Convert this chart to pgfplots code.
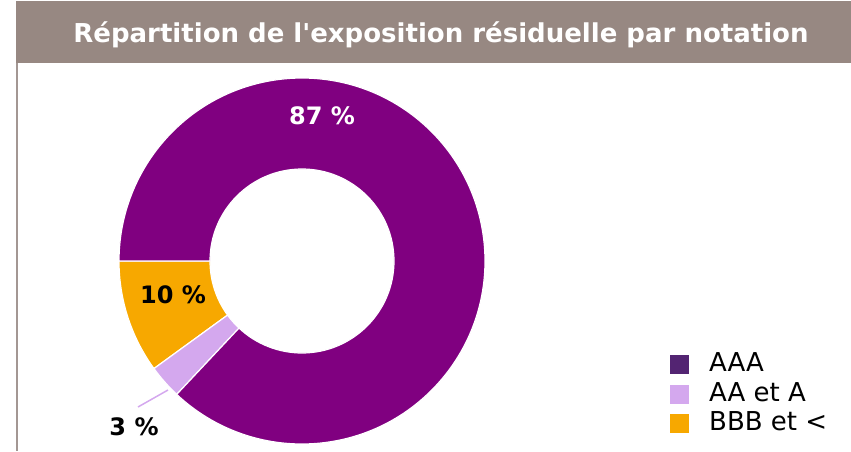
\documentclass[border=0pt]{standalone}
\usepackage{pgfplots}
\pgfplotsset{compat=1.18}
\usepackage{pgfplotstable}
\usepackage{fontspec}
\setmainfont{DejaVu Sans}
\newfontfamily\plainfont{DejaVu Sans} % no tex ligatures: keeps the straight apostrophe

\definecolor{titlebg}{HTML}{978882}
\definecolor{framecol}{HTML}{A39793}
\definecolor{aaa}{HTML}{800080}
\definecolor{aaaleg}{HTML}{532472}
\definecolor{aa}{HTML}{D4A8EE}
\definecolor{bbb}{HTML}{F7A800}

% share of residual exposure by rating, in %
\pgfplotstableread{
cat share
AAA 87
AA 3
BBB 10
}\ratings

\pgfplotstablegetelem{0}{share}\of\ratings \let\vAAA\pgfplotsretval
\pgfplotstablegetelem{1}{share}\of\ratings \let\vAA\pgfplotsretval
\pgfplotstablegetelem{2}{share}\of\ratings \let\vBBB\pgfplotsretval

% slices run counter-clockwise from 9 o'clock: BBB, AA, AAA
\pgfmathsetmacro\aStart{180}
\pgfmathsetmacro\aBBB{\aStart+3.6*\vBBB}
\pgfmathsetmacro\aAA{\aBBB+3.6*\vAA}
\pgfmathsetmacro\aAAA{\aAA+3.6*\vAAA}

\newcommand\slice[3]{%
  \fill[#1, draw=white, line width=1.2pt]
    ([shift={(#2:183pt)}]axis cs:302,190) arc[start angle=#2, end angle=#3, radius=183pt]
    -- ([shift={(#3:92pt)}]axis cs:302,190) arc[start angle=#3, end angle=#2, radius=92pt]
    -- cycle;}

\begin{document}
\begin{tikzpicture}
\begin{axis}[
    scale only axis,
    width=851pt, height=451pt,
    xmin=0, xmax=851, ymin=0, ymax=451,
    hide axis, clip=false,
]
% title band and frame
\fill[titlebg] (axis cs:16,388) rectangle (axis cs:851,450);
\draw[framecol, line width=1.5pt] (axis cs:17,388) -- (axis cs:17,0);
\node[text=white, font=\plainfont\fontsize{26}{30}\selectfont\bfseries, anchor=base]
  at (axis cs:441,408) {Répartition de l'exposition résiduelle par notation};

% donut
\slice{bbb}{\aStart}{\aBBB}
\slice{aa}{\aBBB}{\aAA}
\slice{aaa}{\aAA}{\aAAA}

% labels
\node[text=white, font=\fontsize{24}{28}\selectfont\bfseries, anchor=base] at (axis cs:322,327) {87 \%};
\node[text=black, font=\fontsize{24}{28}\selectfont\bfseries, anchor=base] at (axis cs:173,148) {10 \%};
\draw[aa, line width=1.5pt] (axis cs:168,61) -- (axis cs:138,44);
\node[text=black, font=\fontsize{24}{28}\selectfont\bfseries, anchor=base] at (axis cs:134,16) {3 \%};

% legend
\fill[aaaleg] (axis cs:670,77) rectangle (axis cs:689,96);
\fill[aa] (axis cs:670,47) rectangle (axis cs:689,66);
\fill[bbb] (axis cs:670,18) rectangle (axis cs:689,37);
\node[anchor=base west, font=\fontsize{26}{30}\selectfont, inner sep=0pt] at (axis cs:709,80) {AAA};
\node[anchor=base west, font=\fontsize{26}{30}\selectfont, inner sep=0pt] at (axis cs:709,50) {AA et A};
\node[anchor=base west, font=\fontsize{26}{30}\selectfont, inner sep=0pt] at (axis cs:709,21) {BBB et <};
\end{axis}
\pgfresetboundingbox
\path (0,0) rectangle (851pt,451pt);
\end{tikzpicture}
\end{document}
